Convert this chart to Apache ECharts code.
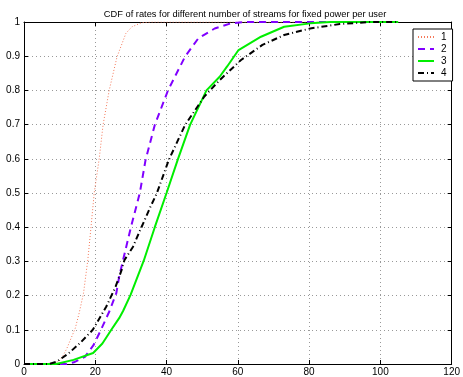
<!DOCTYPE html>
<html>
<head>
<meta charset="utf-8">
<script src="https://cdn.jsdelivr.net/npm/echarts@6/dist/echarts.min.js"></script>
<style>
  html, body { margin: 0; padding: 0; background: #fff; }
  #chart { width: 463px; height: 377px; }
</style>
</head>
<body>
<div id="chart"></div>
<script>
// CDF points: [rate, probability]
const streams1 = [[0,0],[8,0],[10,0.01],[11,0.025],[12,0.045],[13,0.07],[14.4,0.105],[15.5,0.15],[16.7,0.207],[17.9,0.304],[18.8,0.4],[19.7,0.5],[21.1,0.6],[22.2,0.7],[23.9,0.8],[26.1,0.898],[28.6,0.967],[30.3,0.986],[33,0.998],[36,1],[105,1]];
const streams2 = [[0,0],[12,0],[14,0.005],[17.1,0.021],[19.5,0.055],[21.6,0.1],[24,0.155],[25.9,0.207],[26.7,0.255],[27.8,0.304],[30,0.4],[32.5,0.5],[34.1,0.596],[36.7,0.699],[40.4,0.8],[45.2,0.899],[48.9,0.952],[53.5,0.981],[58,0.996],[62,1],[105,1]];
const streams3 = [[0,0],[9,0],[13.9,0.012],[19.4,0.032],[22,0.06],[24.5,0.1],[26.7,0.134],[27.8,0.155],[29.9,0.202],[33.6,0.302],[36.7,0.4],[40,0.5],[43.1,0.596],[46.6,0.699],[51.2,0.8],[54.9,0.84],[57,0.87],[60.2,0.918],[66.5,0.957],[73,0.986],[80.3,0.996],[86,1],[105,1]];
const streams4 = [[0,0],[7,0],[9.2,0.007],[12.5,0.031],[15.7,0.061],[19.3,0.1],[23.1,0.168],[25.7,0.226],[27.4,0.275],[28.2,0.304],[30.6,0.343],[32.2,0.382],[35.5,0.46],[37.3,0.5],[40.6,0.596],[45.2,0.699],[50.6,0.782],[54.9,0.83],[60.9,0.889],[66.9,0.933],[73,0.962],[80.3,0.981],[88.6,0.994],[97,1],[105,1]];

const seriesNames = ["1", "2", "3", "4"];

const font = "Liberation Sans";
const chart = echarts.init(document.getElementById("chart"));

const gridLine = { show: true, lineStyle: { color: "#999", type: [1, 3], width: 1 } };
const tick = { show: true, inside: true, length: 4, lineStyle: { color: "#000" } };
const frame = { show: true, onZero: false, lineStyle: { color: "#000", width: 1 } };

const option = {
  animation: false,
  title: {
    text: "CDF of rates for different number of streams for fixed power per user",
    left: 240,
    textAlign: "center",
    top: 5,
    textStyle: { fontFamily: font, fontSize: 9.3, fontWeight: "normal", color: "#000" },
  },
  legend: {
    orient: "vertical",
    left: 413,
    top: 29,
    padding: [3, 6, 3, 4],
    itemGap: 2,
    itemWidth: 16,
    itemHeight: 9,
    borderColor: "#000",
    borderWidth: 1,
    backgroundColor: "#fff",
    borderRadius: 0,
    data: seriesNames,
    itemStyle: { opacity: 0 },
    textStyle: { fontFamily: font, fontSize: 10, color: "#000", padding: [0, 0, 0, 2] },
  },
  grid: { left: 24, right: 7, top: 22, bottom: 13 },
  xAxis: [
    {
      type: "value",
      min: 0,
      max: 120,
      interval: 20,
      axisLine: frame,
      axisTick: tick,
      splitLine: gridLine,
      axisLabel: { fontFamily: font, fontSize: 10, color: "#000", margin: 3 },
    },
    {
      type: "value",
      position: "top",
      min: 0,
      max: 120,
      interval: 20,
      axisLine: frame,
      axisTick: tick,
      splitLine: { show: false },
      axisLabel: { show: false },
    },
  ],
  yAxis: [
    {
      type: "value",
      min: 0,
      max: 1,
      interval: 0.1,
      axisLine: frame,
      axisTick: tick,
      splitLine: gridLine,
      axisLabel: { fontFamily: font, fontSize: 10, color: "#000", margin: 4 },
    },
    {
      type: "value",
      position: "right",
      min: 0,
      max: 1,
      interval: 0.1,
      axisLine: frame,
      axisTick: tick,
      splitLine: { show: false },
      axisLabel: { show: false },
    },
  ],
  series: [
    {
      name: seriesNames[0],
      type: "line",
      data: streams1,
      symbol: "none",
      lineStyle: { color: "#f4795a", width: 1, type: [1, 2] },
      itemStyle: { color: "#f4795a" },
    },
    {
      name: seriesNames[1],
      type: "line",
      data: streams2,
      symbol: "none",
      lineStyle: { color: "#8000ff", width: 2, type: [7, 5] },
      itemStyle: { color: "#8000ff" },
    },
    {
      name: seriesNames[2],
      type: "line",
      data: streams3,
      symbol: "none",
      lineStyle: { color: "#00ee00", width: 2, type: "solid" },
      itemStyle: { color: "#00ee00" },
    },
    {
      name: seriesNames[3],
      type: "line",
      data: streams4,
      symbol: "none",
      lineStyle: { color: "#000", width: 2, type: [6, 3, 1, 3] },
      itemStyle: { color: "#000" },
    },
  ],
};

chart.setOption(option);
</script>
</body>
</html>
